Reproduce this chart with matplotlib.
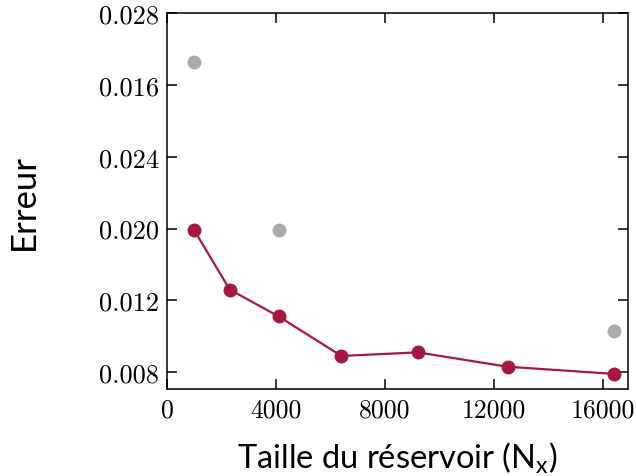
import matplotlib
matplotlib.use('Agg')
from matplotlib import pyplot as plt

# reservoir size vs error
nx_red = [1000, 2300, 4100, 6400, 9200, 12500, 16400]
err_red = [0.0159, 0.0126, 0.0111, 0.0089, 0.0091, 0.0083, 0.0079]

nx_grey = [1000, 4100, 16400]
err_grey = [0.0253, 0.0159, 0.0103]

xticks = [0, 4000, 8000, 12000, 16000]
yticks = [0.028, 0.024, 0.020, 0.016, 0.012, 0.008]
ylabels = ['0.028', '0.016', '0.024', '0.020', '0.012', '0.008']

fig = plt.figure(figsize=(6.36, 4.77), dpi=100)
ax = fig.add_axes([0.2626, 0.1824, 0.725, 0.788])

ax.plot(nx_grey, err_grey, 'o', color='#aaaaaa', ms=9, zorder=2)
ax.plot(nx_red, err_red, '-o', color='#a8173f', ms=9, lw=1.6, zorder=3)

ax.set_xlim(0, 16920)
ax.set_ylim(0.00706, 0.028)
ax.set_xticks(xticks)
ax.set_xticklabels([str(v) for v in xticks], family='cmr10', fontsize=18.5)
ax.set_yticks(yticks)
ax.set_yticklabels(ylabels, family='cmr10', fontsize=19)
ax.tick_params(direction='in', top=True, right=True, length=7, width=1.1, pad=6)
for s in ax.spines.values():
    s.set_linewidth(1.1)

ax.set_ylabel('Erreur', family='Lato', fontsize=25, labelpad=42)
ax.set_xlabel(r'Taille du réservoir (N$_\mathregular{x}$)', family='Lato', fontsize=23.5, labelpad=13)

plt.savefig('out.png', dpi=100)
